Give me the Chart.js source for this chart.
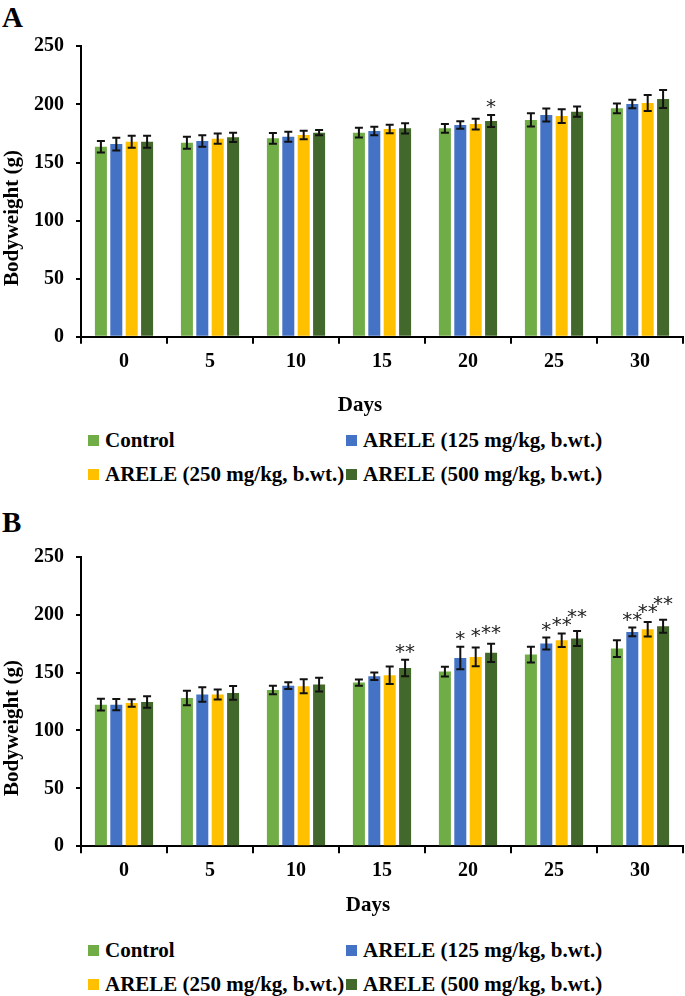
<!DOCTYPE html>
<html>
<head>
<meta charset="utf-8">
<script src="https://cdn.jsdelivr.net/npm/chart.js@4.4.0/dist/chart.umd.min.js"></script>
<style>
  body { margin: 0; background: #fff; }
  #page { position: relative; width: 685px; height: 996px; overflow: hidden;
          font-family: "Liberation Serif", "Times New Roman", serif; font-weight: bold; color: #000; }
  .panel { position: absolute; left: 0; width: 685px; height: 420px; }
  .tag { position: absolute; left: 2px; font-size: 29px; line-height: 1; }
  .leg { position: absolute; display: flex; align-items: center; height: 24px;
         font-size: 21px; white-space: nowrap; }
  .leg i { display: inline-block; width: 11px; height: 11px; margin-right: 6px; }
</style>
</head>
<body>
<div id="page">
  <div class="tag" style="top:3px">A</div>
  <div class="panel" style="top:0"><canvas id="chartA"></canvas></div>
  <div class="tag" style="top:508px">B</div>
  <div class="panel" style="top:510px"><canvas id="chartB"></canvas></div>
</div>
<script>
// categories and series
const days = ['0', '5', '10', '15', '20', '25', '30'];
const groupNames = ['Control', 'ARELE (125 mg/kg, b.wt.)', 'ARELE (250 mg/kg, b.wt.)', 'ARELE (500 mg/kg, b.wt.)'];
const groupColors = ['#70AD47', '#4472C4', '#FFC000', '#43682B'];
const xTitle = 'Days';
const yTitle = 'Bodyweight (g)';
const yTicks = [0, 50, 100, 150, 200, 250];

// Panel A
const aControl = [163.6, 167.0, 170.8, 175.7, 179.4, 186.6, 196.6];
const aControlSd = [5.0, 5.2, 4.6, 4.2, 3.7, 5.7, 4.2];
const a125 = [165.9, 168.5, 172.2, 177.1, 182.3, 190.9, 200.3];
const a125Sd = [5.5, 4.9, 4.3, 3.7, 3.3, 5.6, 3.7];
const a250 = [167.9, 170.5, 173.7, 178.8, 183.1, 190.0, 201.2];
const a250Sd = [5.2, 4.4, 3.6, 3.6, 4.6, 5.9, 6.9];
const a500 = [167.9, 171.7, 175.7, 179.4, 185.7, 193.7, 204.6];
const a500Sd = [5.2, 4.0, 2.2, 4.4, 5.2, 4.4, 7.7];
const aStars = [
    ['', '', '', '', '', '', ''],
    ['', '', '', '', '', '', ''],
    ['', '', '', '', '', '', ''],
    ['', '', '', '', '*', '', '']
];

// Panel B
const bControl = [122.3, 128.0, 135.0, 141.3, 150.8, 165.5, 170.7];
const bControlSd = [5.0, 6.3, 3.7, 2.7, 4.3, 6.8, 7.2];
const b125 = [122.3, 131.0, 138.7, 146.8, 162.6, 175.0, 185.1];
const b125Sd = [4.9, 6.2, 2.9, 3.2, 9.7, 5.2, 3.7];
const b250 = [123.7, 131.0, 138.1, 147.6, 163.5, 177.9, 187.4];
const b250Sd = [3.2, 4.3, 6.0, 7.6, 8.1, 5.9, 6.2];
const b500 = [124.6, 132.4, 139.6, 154.0, 167.0, 179.4, 190.0];
const b500Sd = [5.0, 5.9, 6.0, 7.1, 7.8, 6.5, 5.6];
const bStars = [
    ['', '', '', '', '', '', ''],
    ['', '', '', '', '*', '*', '**'],
    ['', '', '', '', '*', '**', '**'],
    ['', '', '', '**', '**', '**', '**']
];

Chart.defaults.font.family = '"Liberation Serif", "Times New Roman", serif';
Chart.defaults.color = '#000';

// error bars + significance stars
const errorBars = {
    id: 'errorBars',
    afterDatasetsDraw(chart) {
        const ctx = chart.ctx;
        const y = chart.scales.y;
        const prevStar = {}; // last star label per category, to step them up when they collide
        chart.data.datasets.forEach((ds, i) => {
            const meta = chart.getDatasetMeta(i);
            meta.data.forEach((bar, j) => {
                const v = ds.data[j], e = ds.errors[j];
                const top = y.getPixelForValue(v + e);
                const bot = y.getPixelForValue(v - e);
                ctx.save();
                ctx.strokeStyle = '#111';
                ctx.lineWidth = 2;
                ctx.beginPath();
                ctx.moveTo(bar.x, top); ctx.lineTo(bar.x, bot);
                ctx.moveTo(bar.x - 4, top); ctx.lineTo(bar.x + 4, top);
                ctx.moveTo(bar.x - 4, bot); ctx.lineTo(bar.x + 4, bot);
                ctx.stroke();
                if (ds.stars[j]) {
                    ctx.font = '20px "DejaVu Sans"';
                    ctx.fillStyle = '#222';
                    ctx.textAlign = 'center';
                    ctx.textBaseline = 'alphabetic';
                    const w = ctx.measureText(ds.stars[j]).width;
                    let ty = top - 2;
                    const p = prevStar[j];
                    if (p && Math.abs(bar.x - p.x) < (w + p.w) / 2 - 2) {
                        ty = Math.min(ty, p.y - 8);
                    } else if (p) {
                        ty = Math.min(ty, p.y - 3);
                    }
                    ctx.fillText(ds.stars[j], bar.x, ty);
                    prevStar[j] = { x: bar.x, w: w, y: ty };
                }
                ctx.restore();
            });
        });
    }
};

// axis titles sit off-centre like in the original
const axisTitles = {
    id: 'axisTitles',
    afterDraw(chart, args, opts) {
        const ctx = chart.ctx, a = chart.chartArea;
        ctx.save();
        ctx.font = 'bold 21px "Liberation Serif"';
        ctx.fillStyle = '#000';
        ctx.textAlign = 'center';
        ctx.textBaseline = 'middle';
        ctx.fillText(xTitle, opts.xTitleX, a.bottom + opts.xTitleGap);
        ctx.translate(12.5, (a.top + a.bottom) / 2 + 26.5);
        ctx.rotate(-Math.PI / 2);
        ctx.fillText(yTitle, 0, 0);
        ctx.restore();
    }
};

function makeDatasets(values, sds, stars) {
    return values.map((v, i) => ({
        label: groupNames[i],
        data: v,
        errors: sds[i],
        stars: stars[i],
        backgroundColor: groupColors[i],
        categoryPercentage: 0.716,
        barPercentage: 0.78
    }));
}

function initPanel(id, values, sds, stars, box) {
    const ctx = document.getElementById(id).getContext('2d');
    new Chart(ctx, {
        type: 'bar',
        data: {
            labels: days,
            datasets: makeDatasets(values, sds, stars)
        },
        options: {
            responsive: true,
            maintainAspectRatio: false,
            animation: false,
            layout: {
                padding: { top: box.plotTop, right: 2, left: 0, bottom: 0 }
            },
            plugins: {
                legend: { display: false },
                tooltip: { enabled: false },
                axisTitles: { xTitleX: box.xTitleX, xTitleGap: box.xTitleGap }
            },
            scales: {
                x: {
                    afterFit: (s) => { s.height = 420 - box.plotBottom; },
                    grid: {
                        offset: true,
                        drawOnChartArea: false,
                        tickLength: 7,
                        color: '#000',
                        lineWidth: 2
                    },
                    border: { color: '#000', width: 2 },
                    ticks: {
                        padding: 6,
                        font: { size: 20, weight: 'bold' }
                    }
                },
                y: {
                    min: 0,
                    max: 250,
                    afterFit: (s) => { s.width = 81; },
                    afterBuildTicks: (s) => { s.ticks = yTicks.map(v => ({ value: v })); },
                    grid: {
                        drawOnChartArea: false,
                        tickLength: 5,
                        color: '#000',
                        lineWidth: 2
                    },
                    border: { color: '#000', width: 2 },
                    ticks: {
                        padding: 12,
                        font: { size: 20, weight: 'bold' }
                    }
                }
            }
        },
        plugins: [errorBars, axisTitles]
    });
}

function addLegend(rowTop) {
    const page = document.getElementById('page');
    const cols = [88, 346];
    groupNames.forEach((name, i) => {
        const el = document.createElement('div');
        el.className = 'leg';
        el.style.left = cols[i % 2] + 'px';
        el.style.top = (rowTop + Math.floor(i / 2) * 34 - 12) + 'px';
        const sw = document.createElement('i');
        sw.style.background = groupColors[i];
        el.appendChild(sw);
        el.appendChild(document.createTextNode(name));
        page.appendChild(el);
    });
}

document.addEventListener('DOMContentLoaded', function () {
    initPanel('chartA', [aControl, a125, a250, a500], [aControlSd, a125Sd, a250Sd, a500Sd], aStars,
        { plotTop: 46.3, plotBottom: 336.8, xTitleX: 360, xTitleGap: 69 });
    initPanel('chartB', [bControl, b125, b250, b500], [bControlSd, b125Sd, b250Sd, b500Sd], bStars,
        { plotTop: 46.7, plotBottom: 336.3, xTitleX: 368, xTitleGap: 59 });
    addLegend(440);
    addLegend(950);
});
</script>
</body>
</html>
